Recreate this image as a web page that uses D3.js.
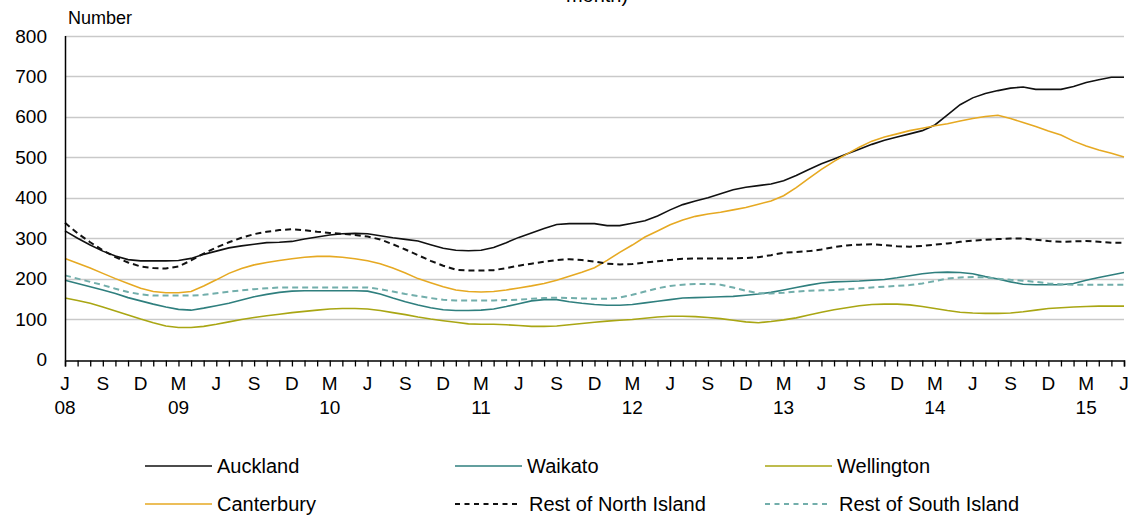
<!DOCTYPE html>
<html>
<head>
<meta charset="utf-8">
<script src="https://cdn.jsdelivr.net/npm/d3@7"></script>
<style>
  body { margin: 0; background: #fff; }
  svg { display: block; font-family: "Liberation Sans", Arial, sans-serif; }
</style>
</head>
<body>
<svg id="chart"></svg>
<script>
const width = 1129;
const height = 515;

// month index 0 = June 2008 ... 84 = June 2015
const quarterLetters = ['J', 'S', 'D', 'M'];
const yearLabels = [[0, '08'], [9, '09'], [21, '10'], [33, '11'], [45, '12'], [57, '13'], [69, '14'], [81, '15']];
const yTicks = [0, 100, 200, 300, 400, 500, 600, 700, 800];

const auckland = [318, 300, 283, 268, 256, 247, 244, 244, 244, 245, 250, 260, 268, 276, 281, 285, 289, 290, 292, 298,
  303, 308, 311, 312, 311, 306, 301, 297, 293, 284, 275, 270, 269, 270, 277, 289, 302, 313, 324, 334,
  336, 336, 336, 331, 331, 337, 343, 355, 370, 383, 392, 400, 410, 420, 426, 430, 434, 442, 455, 470,
  484, 496, 508, 520, 532, 542, 550, 558, 566, 580, 605, 630, 647, 658, 665, 671, 674, 668, 668, 668,
  675, 685, 692, 698, 698];
const waikato = [196, 188, 180, 172, 163, 153, 145, 137, 130, 124, 122, 127, 133, 139, 147, 155, 161, 166, 169, 170,
  170, 170, 170, 170, 169, 162, 152, 143, 135, 128, 123, 121, 121, 122, 125, 131, 138, 145, 148, 148,
  143, 139, 136, 134, 134, 136, 140, 144, 148, 152, 153, 154, 155, 156, 159, 162, 166, 172, 178, 184,
  189, 192, 193, 194, 196, 198, 202, 207, 212, 215, 216, 215, 212, 205, 199, 192, 186, 185, 185, 185,
  188, 196, 203, 209, 215];
const wellington = [152, 146, 139, 130, 120, 110, 100, 91, 83, 79, 79, 82, 87, 93, 99, 104, 108, 112, 116, 119,
  122, 125, 126, 126, 125, 121, 116, 111, 105, 100, 96, 92, 88, 87, 87, 86, 84, 82, 82, 83,
  86, 89, 92, 95, 97, 99, 102, 105, 107, 107, 106, 104, 101, 97, 93, 91, 94, 98, 103, 110,
  117, 123, 128, 133, 136, 137, 137, 135, 131, 126, 121, 117, 115, 114, 114, 115, 118, 122, 126, 128,
  130, 131, 132, 132, 132];
const canterbury = [250, 238, 226, 213, 200, 188, 176, 168, 165, 165, 168, 182, 197, 213, 225, 234, 240, 245, 249, 253,
  255, 255, 253, 249, 244, 237, 226, 214, 200, 190, 180, 172, 168, 167, 168, 172, 177, 182, 188, 196,
  206, 216, 227, 245, 265, 283, 303, 318, 333, 345, 354, 360, 364, 370, 376, 384, 392, 405, 425, 448,
  470, 490, 508, 525, 540, 550, 558, 566, 572, 578, 583, 590, 596, 601, 604, 596, 586, 576, 565, 555,
  540, 528, 518, 510, 501];
const restNorth = [338, 312, 290, 270, 253, 240, 230, 226, 225, 230, 245, 262, 277, 290, 301, 310, 316, 320, 322, 320,
  316, 313, 311, 308, 304, 297, 285, 272, 258, 244, 232, 222, 220, 220, 221, 226, 232, 237, 242, 246,
  248, 246, 242, 237, 235, 236, 240, 243, 246, 249, 250, 250, 250, 250, 251, 253, 258, 264, 266, 268,
  272, 278, 282, 284, 285, 283, 280, 279, 281, 284, 287, 291, 294, 296, 298, 299, 299, 296, 293, 291,
  292, 293, 291, 289, 289];
const restSouth = [208, 200, 192, 184, 175, 167, 161, 158, 158, 158, 158, 160, 164, 168, 171, 174, 176, 178, 178, 178,
  178, 178, 178, 178, 178, 174, 168, 162, 157, 152, 148, 146, 146, 146, 146, 147, 148, 150, 152, 153,
  152, 151, 150, 150, 153, 160, 168, 176, 182, 185, 187, 187, 185, 178, 170, 164, 163, 165, 168, 170,
  171, 172, 174, 176, 178, 180, 182, 184, 188, 194, 200, 203, 204, 203, 200, 197, 195, 192, 188, 186,
  185, 185, 185, 185, 185];

const series = [
  { name: 'Auckland', values: auckland, color: '#111111', dash: null },
  { name: 'Waikato', values: waikato, color: '#2f7f7e', dash: null },
  { name: 'Wellington', values: wellington, color: '#a9a613', dash: null },
  { name: 'Canterbury', values: canterbury, color: '#e6a922', dash: null },
  { name: 'Rest of North Island', values: restNorth, color: '#111111', dash: '6,4' },
  { name: 'Rest of South Island', values: restSouth, color: '#72aeab', dash: '6,4' }
];

const svg = d3.select('#chart').attr('width', width).attr('height', height);

const x = d3.scaleLinear().domain([0, 84]).range([65, 1124]);
const y = d3.scaleLinear().domain([0, 800]).range([359.5, 36]);

// title, cut off at the top as in the original
svg.append('text')
  .attr('x', 597).attr('y', 2)
  .attr('text-anchor', 'middle')
  .style('font-size', '20px')
  .text('month)');

svg.append('text')
  .attr('x', 68).attr('y', 24)
  .style('font-size', '18px')
  .text('Number');

// gridlines
svg.append('g')
  .selectAll('line')
  .data(yTicks.filter(d => d > 0))
  .enter().append('line')
  .attr('x1', 65).attr('x2', 1124)
  .attr('y1', d => Math.round(y(d)) + 0.5)
  .attr('y2', d => Math.round(y(d)) + 0.5)
  .attr('stroke', '#c9c9c9')
  .attr('stroke-width', 1.3);

// y labels
svg.append('g')
  .selectAll('text')
  .data(yTicks)
  .enter().append('text')
  .attr('x', 47)
  .attr('y', d => y(d) + 6.5)
  .attr('text-anchor', 'end')
  .style('font-size', '19px')
  .text(d => d);

// lines
const line = d3.line()
  .x((d, i) => x(i))
  .y(d => y(d));

svg.append('g')
  .selectAll('path')
  .data(series)
  .enter().append('path')
  .attr('d', d => line(d.values))
  .attr('fill', 'none')
  .attr('stroke', d => d.color)
  .attr('stroke-width', d => d.dash ? 2 : 1.6)
  .attr('stroke-dasharray', d => d.dash);

// axes
const xAxis = d3.axisBottom(x)
  .tickValues(d3.range(0, 85))
  .tickSize(6)
  .tickFormat('');

const gx = svg.append('g')
  .attr('transform', `translate(0, ${Math.round(y(0)) + 0.5})`)
  .call(xAxis);
gx.select('.domain').attr('stroke', '#000').attr('stroke-width', 1.5);
gx.selectAll('.tick line').attr('stroke', '#000').attr('stroke-width', 1.3);

svg.append('line')
  .attr('x1', 65.5).attr('x2', 65.5)
  .attr('y1', y(800)).attr('y2', y(0) + 1)
  .attr('stroke', '#000')
  .attr('stroke-width', 1.5);

// month letters
svg.append('g')
  .selectAll('text')
  .data(d3.range(0, 85, 3))
  .enter().append('text')
  .attr('x', d => x(d))
  .attr('y', 390)
  .attr('text-anchor', 'middle')
  .style('font-size', '19px')
  .text(d => quarterLetters[(d / 3) % 4]);

svg.append('g')
  .selectAll('text')
  .data(yearLabels)
  .enter().append('text')
  .attr('x', d => x(d[0]))
  .attr('y', 414)
  .attr('text-anchor', 'middle')
  .style('font-size', '19px')
  .text(d => d[1]);

// legend
const legendX = [145, 455, 765];
const legendY = [466, 504];
const legend = svg.append('g')
  .selectAll('g')
  .data(series)
  .enter().append('g')
  .attr('transform', (d, i) => `translate(${legendX[i % 3]}, ${legendY[Math.floor(i / 3)]})`);

legend.append('line')
  .attr('x1', 0).attr('x2', d => d.dash ? 64 : 67)
  .attr('stroke', d => d.color)
  .attr('stroke-width', d => d.dash ? 2 : 1.6)
  .attr('stroke-dasharray', d => d.dash ? '5,4.5' : null);

legend.append('text')
  .attr('x', d => d.dash ? 74 : 72)
  .attr('y', 7)
  .style('font-size', '20px')
  .text(d => d.name);
</script>
</body>
</html>
